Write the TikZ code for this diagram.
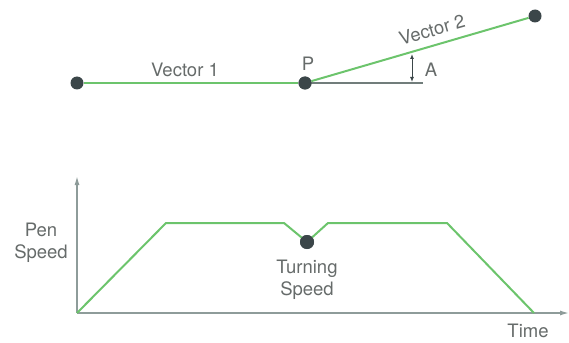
\documentclass[tikz,border=0pt]{standalone}
\usepackage{fontspec}
\setmainfont{TeX Gyre Heros}
\usetikzlibrary{arrows.meta,positioning}
\definecolor{pen}{HTML}{6CC46C}
\definecolor{dot}{HTML}{3B4649}
\definecolor{axis}{HTML}{8E9C9A}
\definecolor{txt}{HTML}{666B6A}

\begin{document}
\begin{tikzpicture}[>=Latex,x=1pt,y=-1pt,
  lbl/.style={text=txt,font=\fontsize{18.5}{21}\selectfont,inner sep=0pt},
  pt/.style={circle,fill=dot,inner sep=0pt,minimum size=13pt},
  vec/.style={pen,line width=2pt},
  ax/.style={axis,line width=1.4pt}]
\useasboundingbox (0,0) rectangle (569,342);
% vectors
\node[pt] (s) at (77,83) {};
\node[pt] (p) at (305,83) {};
\node[pt] (e) at (535,16) {};
\coordinate (h) at (423,83);
\draw[axis!80!black,line width=1.2pt] (p.center) -- (h);
\draw[vec] (s) -- (p);
\draw[vec] (p) -- (e);
\node[pt] at (p) {};
\node[lbl] (v1) at (185,70) {Vector 1};
\node[lbl,rotate=16] (v2) at (432,30) {Vector 2};
\node[lbl] (pl) at (308,64) {P};
\coordinate (a0) at (412,82);
\coordinate (a1) at (412,54);
\draw[<->,dot,line width=1pt,>={Latex[length=5pt,width=4pt]}] (a0) -- (a1);
\node[lbl] (al) at (431,70) {A};
% speed profile
\coordinate (o) at (77,313);
\coordinate (ytop) at (77,176);
\coordinate (xend) at (569,313);
\draw[ax,->,>={Latex[length=9pt,width=5pt]}] (o) -- (ytop);
\draw[ax,->,>={Latex[length=9pt,width=5pt]}] (o) -- (xend);
\node[pt,minimum size=14pt] (ts) at (307,242) {};
\draw[vec,line join=round] (o) -- (166,223) -- (284,223) -- (ts.center) -- (328,223) -- (447,223) -- (534,313);
\node[pt,minimum size=14pt] at (ts) {};
\node[lbl,align=center] (ps) at (41,243) {Pen\\[1pt]Speed};
\node[lbl,align=center,below=11pt of ts] (tl) {Turning\\[1pt]Speed};
\node[lbl] (tm) at (528,331) {Time};
\end{tikzpicture}
\end{document}
